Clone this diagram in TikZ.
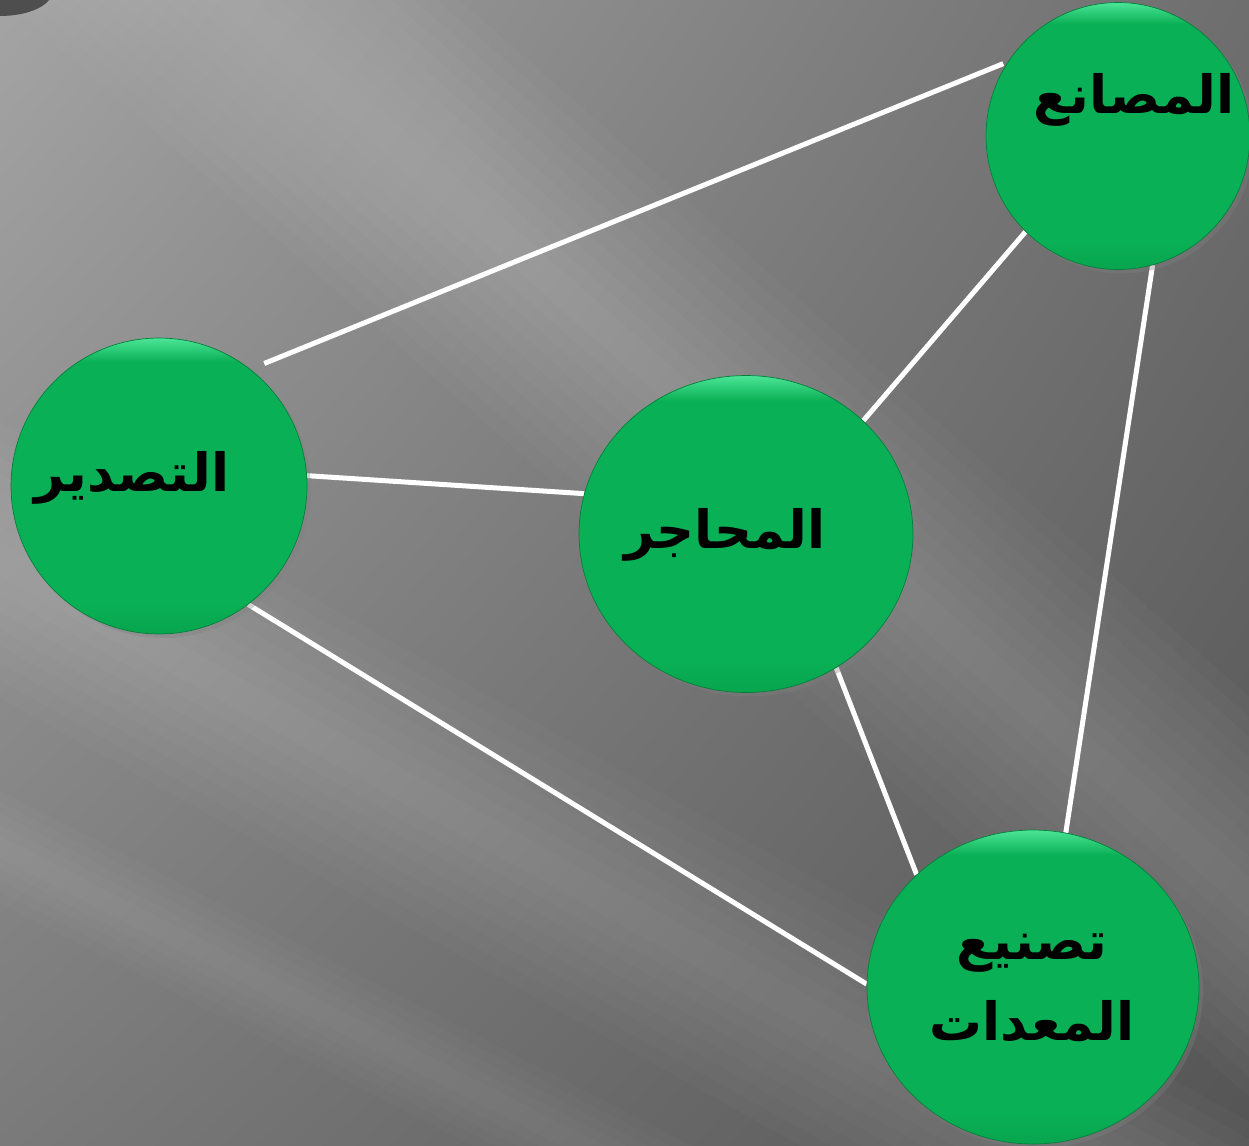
\documentclass[tikz,border=0pt]{standalone}
\usepackage{fontspec}
\usetikzlibrary{shapes.geometric, shadows, shadings}
\newfontfamily\arabicfont[Script=Arabic]{DejaVu Sans}
\TeXXeTstate=1
\definecolor{bgA}{HTML}{A4A4A4}
\definecolor{bgB}{HTML}{6E6E6E}
\definecolor{bgC}{HTML}{7A7A7A}
\definecolor{bgD}{HTML}{555555}
\definecolor{bgblob}{HTML}{4E4E4E}
\definecolor{balltop}{HTML}{4BE597}
\definecolor{ballmain}{HTML}{0AB055}
\definecolor{ballbot}{HTML}{07A54E}
\definecolor{balledge}{HTML}{05803C}
\pgfdeclareverticalshading{greenball}{100bp}{color(0bp)=(ballbot); color(25bp)=(ballbot); color(30bp)=(ballmain); color(71bp)=(ballmain); color(75bp)=(balltop); color(100bp)=(balltop)}
\pgfdeclarelayer{bg}
\pgfdeclarelayer{links}
\pgfsetlayers{bg,links,main}

\begin{document}
\begin{tikzpicture}[x=0.02cm, y=-0.02cm,
    hub/.style={ellipse, shading=greenball, draw=balledge, line width=0.4pt, inner sep=0pt,
      drop shadow={shadow xshift=0.08cm, shadow yshift=-0.08cm, opacity=0.35}},
    tag/.style={font=\arabicfont\bfseries\fontsize{30}{46}\selectfont, text=black, align=center},
    link/.style={white, line width=0.1cm},
    glow/.style={white, opacity=0.02}]
  \useasboundingbox (0,0) rectangle (1249,1146);
  \node[hub, minimum width=5.92cm, minimum height=5.92cm] (exp) at (159,486) {};
  \node[hub, minimum width=5.28cm, minimum height=5.34cm] (fac) at (1118,136) {};
  \node[hub, minimum width=6.68cm, minimum height=6.34cm] (qua) at (746,534) {};
  \node[hub, minimum width=6.64cm, minimum height=6.28cm] (equ) at (1033,987) {};
  \node[tag, anchor=base] (facText) at (1134,113) {\beginR المصانع\endR};
  \node[tag, anchor=base] (expText) at (132,491) {\beginR التصدير\endR};
  \node[tag, anchor=base] (quaText) at (725,548) {\beginR المحاجر\endR};
  \node[tag] (equText) at (1032,988) {\beginR تصنيع\endR\\\beginR المعدات\endR};
  \begin{pgfonlayer}{links}
    \draw[link, shorten <=0.3cm, shorten >=0.1cm] (exp.52) -- (fac.146);
    \draw[link] (exp.4.6) -- (qua.166.8);
    \draw[link] (qua.44) -- (fac.226.6);
    \draw[link] (fac.285.4) -- (equ.78.6);
    \draw[link] (qua.304.9) -- (equ.136.7);
    \draw[link] (exp.307.3) -- (equ.179.3);
  \end{pgfonlayer}
  \begin{pgfonlayer}{bg}
    \clip (0,0) rectangle (1249,1146);
    \shade[upper left=bgA, upper right=bgB, lower left=bgC, lower right=bgD] (0,0) rectangle (1249,1146);
    \foreach \w in {30,60,...,300}
      \draw[glow, line width=\w*0.02cm] (-100,-294) -- (1400,1030);
    \foreach \w in {30,60,...,240}
      \draw[glow, line width=\w*0.02cm] (-250,420) -- (1600,1456);
    \foreach \w in {20,40,...,100}
      \draw[glow, line width=\w*0.02cm] (-150,770) -- (1000,1360);
    \fill[bgblob] (0,-8) ellipse [x radius=52, y radius=24];
  \end{pgfonlayer}
\end{tikzpicture}
\end{document}
